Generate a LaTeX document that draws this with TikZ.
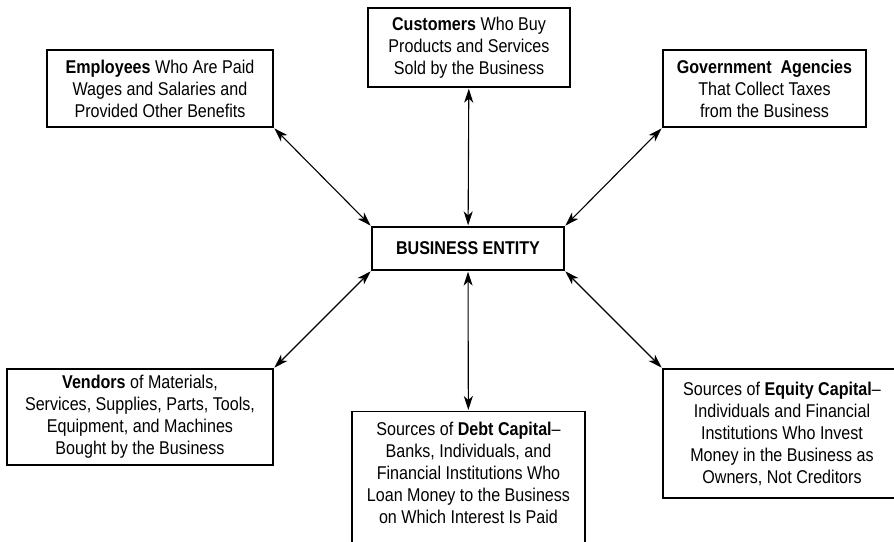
\documentclass[tikz,border=0pt]{standalone}
\usepackage{fontspec}
\setmainfont{Liberation Sans}[FakeStretch=0.87]
\usepackage{tikz}
\usetikzlibrary{arrows.meta}

\begin{document}
\begin{tikzpicture}[
  x=1pt, y=-1pt,
  font=\fontsize{18.5}{22}\selectfont,
  party/.style={rectangle, draw, line width=1.3pt, align=center,
                inner sep=4pt},
  link/.style={{Stealth[length=14pt,width=9pt,inset=4pt]}-{Stealth[length=14pt,width=9pt,inset=4pt]},
               line width=1.1pt, shorten <=1pt, shorten >=1pt},
]
  \useasboundingbox (0,0) rectangle (894,541);
  \clip (0,0) rectangle (894,541);

  % the business in the middle
  \node[party, minimum width=192pt, minimum height=43pt] (biz) at (468,248.5)
    {\textbf{BUSINESS ENTITY}};

  % upper row
  \node[party, minimum width=226pt, minimum height=77pt] (emp) at (160,88.5)
    {\textbf{Employees} Who Are Paid\\Wages and Salaries and\\Provided Other Benefits};
  \node[party, minimum width=202pt, minimum height=79pt] (cust) at (469,47.5)
    {\textbf{Customers} Who Buy\\Products and Services\\Sold by the Business};
  \node[party, minimum width=203pt, minimum height=77pt] (gov) at (764.5,88.5)
    {\textbf{Government\ \ Agencies}\\That Collect Taxes\\from the Business};

  % lower row (the debt box runs off the bottom edge)
  \node[party, minimum width=266pt, minimum height=96pt] (vend) at (140,417)
    {\textbf{Vendors} of Materials,\\Services, Supplies, Parts, Tools,\\Equipment, and Machines\\Bought by the Business};
  \node[party, minimum width=233pt, inner ysep=10pt, text depth=30pt, anchor=north] (debt) at (468.5,411)
    {Sources of \textbf{Debt Capital}--\\Banks, Individuals, and\\Financial Institutions Who\\Loan Money to the Business\\on Which Interest Is Paid};
  \node[party, minimum width=238pt, minimum height=129pt] (eq) at (782,433.5)
    {Sources of \textbf{Equity Capital}--\\Individuals and Financial\\Institutions Who Invest\\Money in the Business as\\Owners, Not Creditors};

  \draw[link] (emp.south east) -- (biz.north west);
  \draw[link] (cust) -- (biz);
  \draw[link] (gov.south west) -- (biz.north east);
  \draw[link] (vend.north east) -- (biz.south west);
  \draw[link] (debt) -- (biz);
  \draw[link] (eq.north west) -- (biz.south east);
\end{tikzpicture}
\end{document}
